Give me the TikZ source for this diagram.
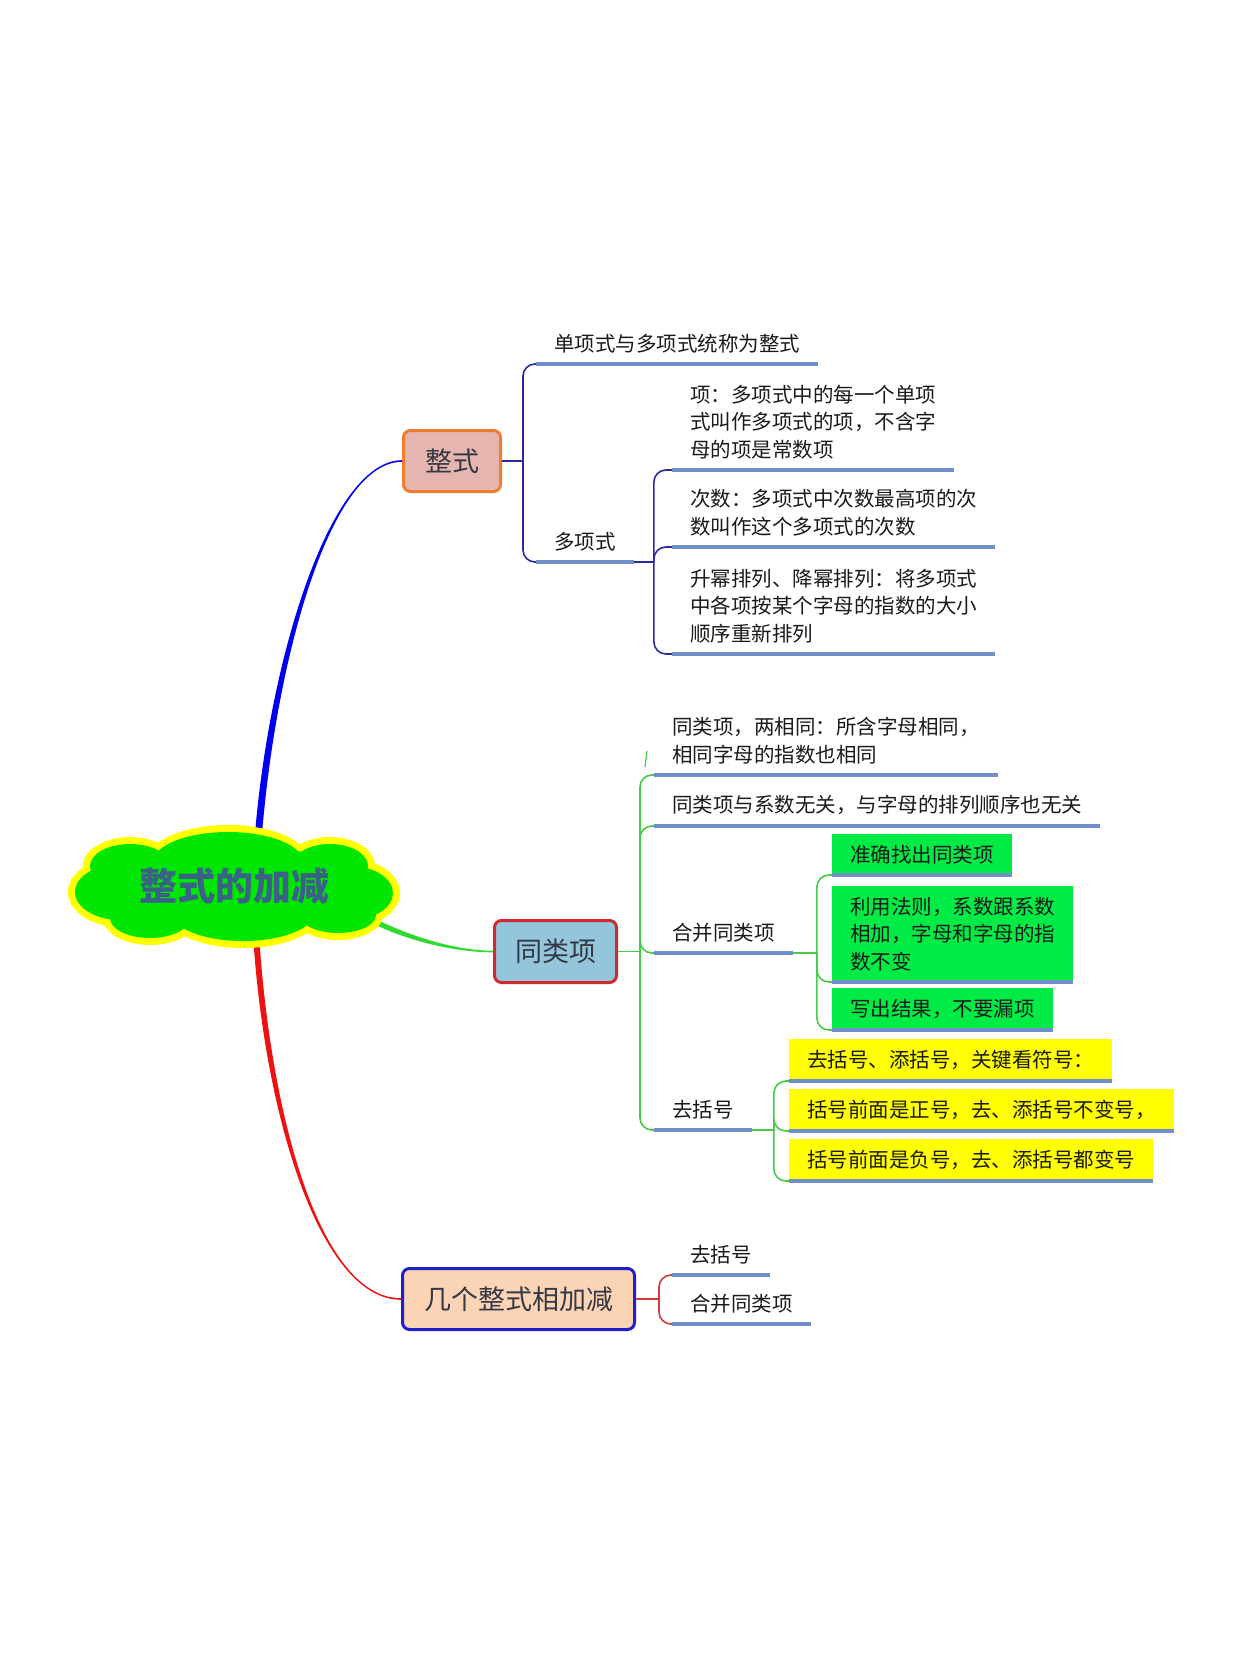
\documentclass[tikz,border=0pt]{standalone}
\usepackage{fontspec}
\setmainfont{Noto Sans CJK SC}
\usepackage{tikz}
\usetikzlibrary{
	positioning
}

\definecolor{cloudgreen}{HTML}{00E600}
\definecolor{cloudyellow}{HTML}{FFFF00}
\definecolor{titleblue}{HTML}{3A6186}
\definecolor{boxtext}{HTML}{353845}
\definecolor{leaftext}{HTML}{1A1A1A}
\definecolor{ulblue}{HTML}{6E8FCA}
\definecolor{leafgreen}{HTML}{00EB45}
\definecolor{leafyellow}{HTML}{FFFF00}
\definecolor{zsfill}{HTML}{E6B5B0}
\definecolor{zsdraw}{HTML}{EE7D32}
\definecolor{tlfill}{HTML}{93C6DA}
\definecolor{tldraw}{HTML}{D02A2E}
\definecolor{rlfill}{HTML}{FBD4B5}
\definecolor{rldraw}{HTML}{2020C8}
\definecolor{twignavy}{HTML}{2A2A9E}
\definecolor{twiggreen}{HTML}{44CC44}
\definecolor{twigred}{HTML}{D03A3A}
\definecolor{branchblue}{HTML}{0000F0}
\definecolor{branchgreen}{HTML}{30DA30}
\definecolor{branchred}{HTML}{EE1111}

\tikzset{
	topic/.style={draw, line width=3pt, rounded corners=7pt,
		font=\fontsize{27}{32}\selectfont, text=boxtext},
	leaf/.style={anchor=south west, inner xsep=18pt, inner ysep=11pt,
		align=left, font=\fontsize{20.5}{27.5}\selectfont, text=leaftext},
	uline/.style={line width=3.5pt, draw=ulblue},
	twig/.style={line width=1.6pt, rounded corners=12pt}
}

\begin{document}
\begin{tikzpicture}[x=1pt,y=-1pt]
	\fill[white] (0,0) rectangle (1240,1653);
	\useasboundingbox (0,0) rectangle (1240,1653);

	% main topics
	\node[topic, fill=zsfill, draw=zsdraw, minimum width=97pt, minimum height=61pt] (zs) at (452,461) {整式};
	\node[topic, fill=tlfill, draw=tldraw, minimum width=122pt, minimum height=62pt] (tl) at (555.5,951.5) {同类项};
	\node[topic, fill=rlfill, draw=rldraw, minimum width=232pt, minimum height=61pt] (rl) at (518.5,1299) {几个整式相加减};

	% 整式
	\node[leaf] (z1) at (536,364) {单项式与多项式统称为整式};
	\node[leaf] (z2) at (536,562) {多项式};
	\node[leaf] (z21) at (672,470) {项：多项式中的每一个单项\\式叫作多项式的项，不含字\\母的项是常数项};
	\node[leaf] (z22) at (672,547) {次数：多项式中次数最高项的次\\数叫作这个多项式的次数};
	\node[leaf] (z23) at (672,654) {升幂排列、降幂排列：将多项式\\中各项按某个字母的指数的大小\\顺序重新排列};

	% 同类项
	\node[leaf] (t1) at (654,775) {同类项，两相同：所含字母相同，\\相同字母的指数也相同};
	\node[leaf] (t2) at (654,826) {同类项与系数无关，与字母的排列顺序也无关};
	\node[leaf] (t3) at (654,953) {合并同类项};
	\node[leaf] (t4) at (654,1130) {去括号};
	\node[leaf, fill=leafgreen] (g1) at (832,875) {准确找出同类项};
	\node[leaf, fill=leafgreen] (g2) at (832,982) {利用法则，系数跟系数\\相加，字母和字母的指\\数不变};
	\node[leaf, fill=leafgreen] (g3) at (832,1030) {写出结果，不要漏项};
	\node[leaf, fill=leafyellow] (y1) at (789,1081) {去括号、添括号，关键看符号：};
	\node[leaf, fill=leafyellow] (y2) at (789,1131) {括号前面是正号，去、添括号不变号，};
	\node[leaf, fill=leafyellow] (y3) at (789,1181) {括号前面是负号，去、添括号都变号};

	% 几个整式相加减
	\node[leaf] (r1) at (672,1275) {去括号};
	\node[leaf] (r2) at (672,1324) {合并同类项};

	% junctions
	\coordinate[right=21pt of zs] (jz);
	\coordinate[right=22pt of tl] (jt);
	\coordinate[right=23pt of rl] (jr);
	\coordinate (jd) at ([xshift=20pt]z2.south east);
	\coordinate (jh) at ([xshift=24pt]t3.south east);
	\coordinate (jq) at ([xshift=22pt]t4.south east);

	% twigs
	\draw[twig, draw=twignavy] (zs.east) -- (jz);
	\foreach \c in {z1,z2}
		\draw[twig, draw=twignavy] (jz) |- (\c.south west);
	\draw[twig, draw=twignavy] (z2.south east) -- (jd);
	\foreach \c in {z21,z22,z23}
		\draw[twig, draw=twignavy] (jd) |- (\c.south west);

	\draw[twig, draw=twiggreen] (tl.east) -- (jt);
	\foreach \c in {t1,t2,t3,t4}
		\draw[twig, draw=twiggreen] (jt) |- (\c.south west);
	\draw[twig, draw=twiggreen] (t3.south east) -- (jh);
	\foreach \c in {g1,g2,g3}
		\draw[twig, draw=twiggreen] (jh) |- (\c.south west);
	\draw[twig, draw=twiggreen] (t4.south east) -- (jq);
	\foreach \c in {y1,y2,y3}
		\draw[twig, draw=twiggreen] (jq) |- (\c.south west);
	\draw[twiggreen, line width=1.2pt] (647,751) -- (645,767);

	\draw[twig, draw=twigred] (rl.east) -- (jr);
	\foreach \c in {r1,r2}
		\draw[twig, draw=twigred] (jr) |- (\c.south west);

	% underlines
	\foreach \c in {z1,z2,z21,z22,z23,t1,t2,t3,t4,g1,g2,g3,y1,y2,y3,r1,r2}
		\draw[uline] (\c.south west) -- (\c.south east);

	% main branches
	\coordinate (rootB) at (258,840);
	\coordinate (rootG) at (362,915);
	\coordinate (rootR) at (256,935);
	\fill[branchblue] ([xshift=-3.5pt]rootB) .. controls +(14,-180) and +(-72,0) .. ([yshift=0.8pt]zs.west)
		-- ([yshift=-0.8pt]zs.west) .. controls +(-72,0) and +(14,-180) .. ([xshift=3.5pt]rootB) -- cycle;
	\fill[branchgreen] ([yshift=3pt]rootG) .. controls +(40,22) and +(-40,0) .. ([yshift=0.8pt]tl.west)
		-- ([yshift=-0.8pt]tl.west) .. controls +(-40,0) and +(40,22) .. ([yshift=-3pt]rootG) -- cycle;
	\fill[branchred] ([xshift=-3pt]rootR) .. controls +(12,185) and +(-80,0) .. ([yshift=-0.8pt]rl.west)
		-- ([yshift=0.8pt]rl.west) .. controls +(-80,0) and +(12,185) .. ([xshift=3pt]rootR) -- cycle;

	% central topic: cloud made of puffs, yellow rim then green body
	\def\puffs{234/886/130/40, 228/862/75/30, 243/912/72/29, 120/892/45/28, 350/893/43/27,
		130/866/40/22, 330/866/38/22, 150/918/40/20, 338/915/38/18}
	\foreach \cx/\cy/\rx/\ry in \puffs
		\fill[cloudyellow] (\cx,\cy) ellipse [x radius=\rx+7, y radius=\ry+7];
	\foreach \cx/\cy/\rx/\ry in \puffs
		\fill[cloudgreen] (\cx,\cy) ellipse [x radius=\rx, y radius=\ry];
	\node[font=\fontsize{38}{40}\selectfont\bfseries, text=titleblue] (root) at (234,886) {整式的加减};
\end{tikzpicture}
\end{document}
